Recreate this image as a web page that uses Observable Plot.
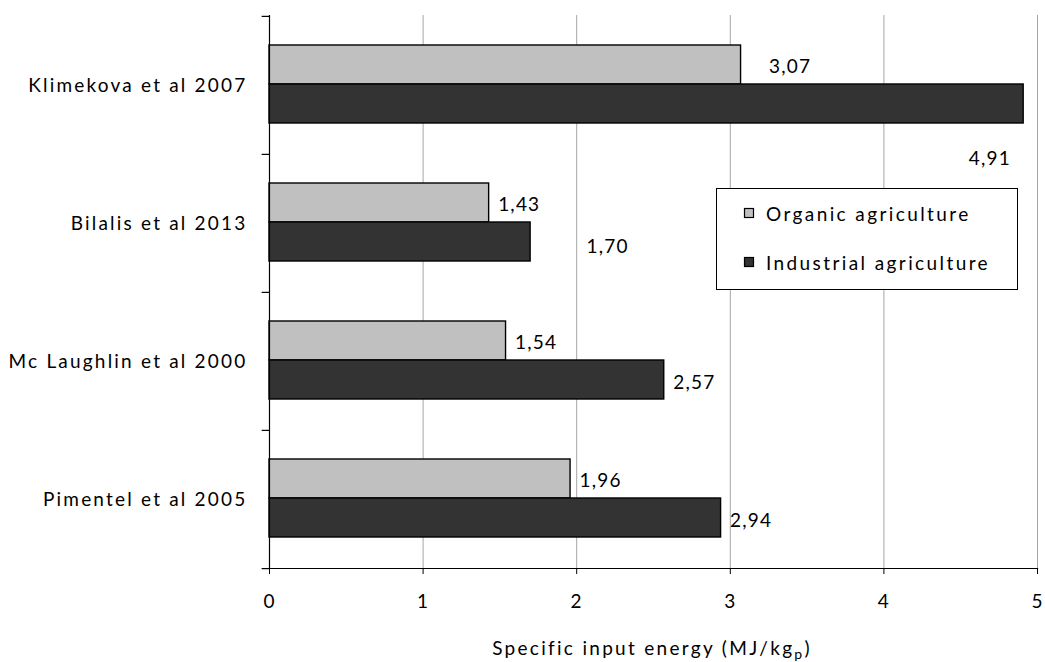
<!DOCTYPE html>
<html>
<head>
<meta charset="utf-8">
<script src="https://cdn.jsdelivr.net/npm/d3@7"></script>
<script src="https://cdn.jsdelivr.net/npm/@observablehq/plot@0.6"></script>
<style>
  html, body { margin: 0; padding: 0; background: #fff; }
</style>
</head>
<body>
<div id="chart"></div>
<script>
// ---- data ----
const studies = ["Klimekova et al 2007", "Bilalis et al 2013", "Mc Laughlin et al 2000", "Pimentel et al 2005"];
const organic = [3.07, 1.43, 1.54, 1.96];
const industrial = [4.91, 1.70, 2.57, 2.94];
const seriesNames = ["Organic agriculture", "Industrial agriculture"];
const seriesColors = ["#c0c0c0", "#333333"];
const xTicks = [0, 1, 2, 3, 4, 5];
const xLabelMain = "Specific input energy (MJ/kg";
const xLabelSub = "p";
const xLabelEnd = ")";

// ---- layout (not data) ----
const W = 1045, H = 662;
const mTop = 15, mBottom = 94, mLeft = 269, mRight = 8;
const FONT = "Lato, 'Open Sans', sans-serif";
const FS = 19;
const LS = "1.2px";
const halfBand = (H - mTop - mBottom) / studies.length / 2;
// label offsets for the few labels that were moved in the original
const labelShift = {
  "0|0": [28, 0],
  "0|1": [-55, 52],
  "1|1": [56, 2]
};

const fmt = v => d3.format(".2f")(v).replace(".", ",");
const rows = studies.flatMap((s, i) => [
  {study: s, si: 0, i, value: organic[i]},
  {study: s, si: 1, i, value: industrial[i]}
]);

const labelMarks = rows.map(d => {
  const sh = labelShift[d.i + "|" + d.si] || [9, 0];
  return Plot.text([d], {
    x: "value", y: "study", text: d => fmt(d.value),
    textAnchor: "start", dx: sh[0], dy: (d.si === 0 ? -19 : 21) + sh[1],
    fill: "#000", fontSize: FS
  });
});

const chart = Plot.plot({
  width: W, height: H,
  marginTop: mTop, marginBottom: mBottom, marginLeft: mLeft, marginRight: mRight,
  style: {fontFamily: FONT, fontSize: FS + "px", letterSpacing: LS, background: "#fff", color: "#000"},
  x: {domain: [0, 5], label: null},
  y: {domain: studies, padding: 0, label: null},
  marks: [
    Plot.gridX(xTicks, {stroke: "#a6a6a6", strokeOpacity: 1, strokeWidth: 1}),
    Plot.barX(rows.filter(d => d.si === 0), {y: "study", x: "value", fill: seriesColors[0], stroke: "#000", strokeWidth: 1.4, insetTop: 29, insetBottom: 70}),
    Plot.barX(rows.filter(d => d.si === 1), {y: "study", x: "value", fill: seriesColors[1], stroke: "#000", strokeWidth: 1.4, insetTop: 68, insetBottom: 31}),
    Plot.ruleX([0], {stroke: "#000", strokeWidth: 1.2}),
    Plot.frame({anchor: "bottom", stroke: "#000", strokeWidth: 1.2}),
    // category boundary ticks on the left axis
    Plot.ruleY(studies, {y: d => d, x1: -0.048, x2: 0, dy: -halfBand, stroke: "#000", strokeWidth: 1.2}),
    Plot.ruleY(studies.slice(-1), {y: d => d, x1: -0.048, x2: 0, dy: halfBand, stroke: "#000", strokeWidth: 1.2}),
    Plot.axisX(xTicks, {tickSize: 6, tickPadding: 20, fontSize: FS, label: null, stroke: "#000", tickFormat: d => String(d)}),
    Plot.axisY({tickSize: 0, tickPadding: 22, fontSize: FS, label: null}),
    ...labelMarks
  ]
});

document.getElementById("chart").appendChild(chart);

const svg = d3.select(chart);
svg.selectAll('g[aria-label="y-axis tick label"]').style("letter-spacing", "2.2px");

// axis title with subscript
const t = svg.append("text")
  .attr("x", 652).attr("y", 655)
  .attr("text-anchor", "middle")
  .style("font-family", FONT).style("font-size", FS + "px").style("letter-spacing", "2.3px")
  .attr("fill", "#000");
t.append("tspan").text(xLabelMain);
t.append("tspan").text(xLabelSub).attr("dy", 4).style("font-size", (FS - 5) + "px");
t.append("tspan").text(xLabelEnd).attr("dy", -4);

// legend box
const lg = svg.append("g");
lg.append("rect").attr("x", 716.5).attr("y", 188.5).attr("width", 301).attr("height", 101)
  .attr("fill", "#fff").attr("stroke", "#000").attr("stroke-width", 1);
seriesNames.forEach((name, k) => {
  const cy = 214 + k * 49;
  lg.append("rect").attr("x", 744.5).attr("y", cy - 5.5).attr("width", 9).attr("height", 9)
    .attr("fill", seriesColors[k]).attr("stroke", "#000").attr("stroke-width", 1.2);
  lg.append("text").attr("x", 766).attr("y", cy).attr("dy", "0.35em")
    .attr("text-anchor", "start")
    .style("font-family", FONT).style("font-size", FS + "px").style("letter-spacing", "2.4px")
    .attr("fill", "#000").text(name);
});
</script>
</body>
</html>
